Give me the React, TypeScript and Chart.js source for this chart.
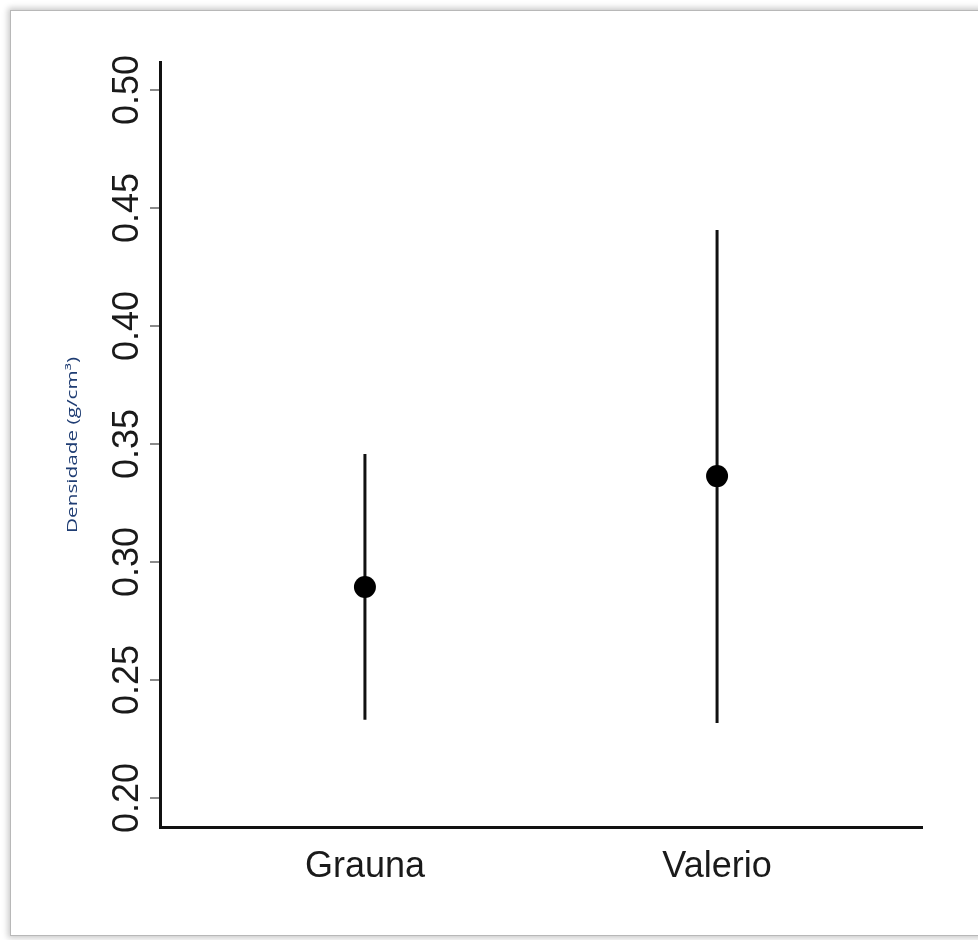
import React, { useEffect, useRef } from 'react';
import { Chart, registerables } from 'chart.js';

Chart.register(...registerables);

const categories = ['Grauna', 'Valerio'];
const categoryX = [1, 2];
const means = [0.2894, 0.3364];
const lowerBounds = [0.2331, 0.2318];
const upperBounds = [0.3458, 0.4407];
const yTicks = [0.2, 0.25, 0.3, 0.35, 0.4, 0.45, 0.5];
const yTitle = 'Densidade (g/cm³)';

export default function App() {
  const ref = useRef<HTMLCanvasElement>(null);

  useEffect(() => {
    if (!ref.current) return;

    const titlePlugin = {
      id: 'yTitlePlugin',
      afterDraw(chart: any) {
        const ctx = chart.ctx as CanvasRenderingContext2D;
        ctx.save();
        ctx.font = '14px "Open Sans"';
        const w = ctx.measureText(yTitle).width;
        ctx.translate(77, 445);
        ctx.rotate(-Math.PI / 2);
        ctx.scale(176 / w, 1);
        ctx.fillStyle = '#1f3d73';
        ctx.textAlign = 'center';
        ctx.textBaseline = 'alphabetic';
        ctx.fillText(yTitle, 0, 0);
        ctx.restore();
      },
    };

    const errorSets = categoryX.map((x, i) => ({
      label: categories[i] + ' range',
      data: [
        { x, y: lowerBounds[i] },
        { x, y: upperBounds[i] },
      ],
      showLine: true,
      borderColor: '#111111',
      borderWidth: 3,
      pointRadius: 0,
      pointHoverRadius: 0,
      order: 1,
    }));

    const chart = new Chart(ref.current, {
      type: 'scatter',
      data: {
        datasets: [
          ...errorSets,
          {
            label: 'Média',
            data: categoryX.map((x, i) => ({ x, y: means[i] })),
            backgroundColor: '#000000',
            borderWidth: 0,
            pointRadius: 11,
            pointHoverRadius: 11,
            order: 0,
          },
        ],
      },
      options: {
        responsive: false,
        animation: false,
        devicePixelRatio: 1,
        layout: { padding: { top: 62, right: 56, left: 0, bottom: 0 } },
        plugins: {
          legend: { display: false },
          tooltip: { enabled: false },
          title: { display: false },
        },
        scales: {
          x: {
            type: 'linear',
            min: 0.418,
            max: 2.582,
            afterBuildTicks: (s: any) => {
              s.ticks = categoryX.map((v) => ({ value: v }));
            },
            afterFit: (s: any) => {
              s.height = 113;
            },
            ticks: {
              autoSkip: false,
              maxRotation: 0,
              minRotation: 0,
              padding: 18,
              color: '#1a1a1a',
              font: { family: '"Liberation Sans", Arial, sans-serif', size: 36 },
              callback: (_v: any, index: number) => categories[index],
            },
            grid: { display: true, drawOnChartArea: false, drawTicks: false },
            border: { display: true, color: '#111111', width: 3 },
          },
          y: {
            type: 'linear',
            min: 0.1877,
            max: 0.5119,
            afterBuildTicks: (s: any) => {
              s.ticks = yTicks.map((v) => ({ value: v }));
            },
            afterFit: (s: any) => {
              s.width = 160;
            },
            ticks: {
              autoSkip: false,
              minRotation: 90,
              maxRotation: 90,
              crossAlign: 'center',
              padding: -13,
              color: '#1a1a1a',
              font: { family: '"Liberation Sans", Arial, sans-serif', size: 36 },
              callback: (v: any) => Number(v).toFixed(2),
            },
            grid: {
              display: true,
              drawOnChartArea: false,
              drawTicks: true,
              tickLength: 10,
              color: '#8a8a8a',
              lineWidth: 2,
            },
            border: { display: true, color: '#111111', width: 3 },
          },
        },
      },
      plugins: [titlePlugin],
    } as any);

    return () => chart.destroy();
  }, []);

  return (
    <div>
      <div
        style={{
          position: 'fixed',
          left: 10,
          top: 10,
          width: 990,
          height: 924,
          border: '1px solid #b8b8b8',
          boxShadow: '0 0 6px 2px rgba(0,0,0,0.22)',
          background: '#ffffff',
        }}
      />
      <canvas
        ref={ref}
        width={978}
        height={940}
        style={{ position: 'fixed', left: 0, top: 0, width: 978, height: 940 }}
      />
    </div>
  );
}
